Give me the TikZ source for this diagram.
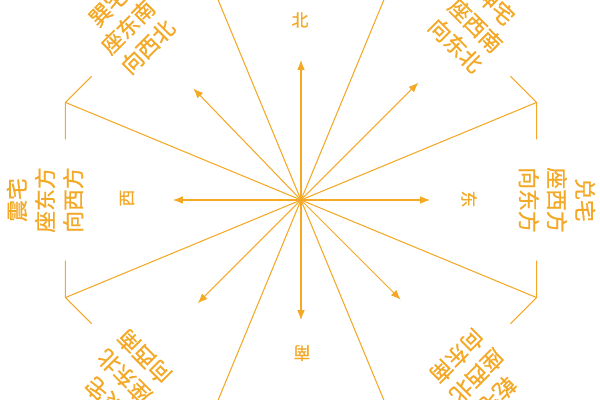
\documentclass[tikz,border=0pt]{standalone}
\usepackage{fontspec}
\newfontfamily\cjk{Noto Sans CJK SC}[BoldFont={Noto Sans CJK SC}, BoldFeatures={FakeBold=0.8}]
\usetikzlibrary{arrows.meta,calc}
\definecolor{bagua}{RGB}{243,168,38}
\tikzset{
  ray/.style={draw=bagua, line width=0.75pt},
  pointer/.style={ray, -{Latex[length=7pt,width=5.5pt]}},
  house/.style={text=bagua, font=\cjk\bfseries\fontsize{15.5}{20}\selectfont, align=center, inner sep=0pt},
  compass/.style={text=bagua, font=\cjk\bfseries\fontsize{12}{14}\selectfont, inner sep=0pt}
}
\begin{document}
\begin{tikzpicture}[x=0.025cm,y=0.025cm]
	\useasboundingbox (-301,-200) rectangle (299,200);
	\coordinate (o) at (0,0);
	\foreach \k in {0,...,7} {\coordinate (v\k) at (22.5+45*\k:255);}
	\foreach \k in {0,...,7} {
		\pgfmathtruncatemacro\nxt{mod(\k+1,8)}
		\pgfmathtruncatemacro\prv{mod(\k+7,8)}
		\draw [ray] ($(v\k)!0.925cm!(v\nxt)$) -- (v\k) -- ($(v\k)!0.925cm!(v\prv)$);
		\draw [ray] (o) -- (v\k);
	}
	\coordinate (tn) at (90:140);
	\coordinate (tne) at (45:166);
	\coordinate (te) at (0:129);
	\coordinate (tse) at (315:141);
	\coordinate (ts) at (270:120);
	\coordinate (tsw) at (225:146);
	\coordinate (tw) at (180:128);
	\coordinate (tnw) at (134:155);
	\foreach \t in {tn,tne,te,tse,ts,tsw,tw,tnw} {\draw [pointer] (o) -- (\t);}
	\node [compass] (bei) at (-1,180) {北};
	\node [compass, rotate=-90] (dong) at (168,1) {东};
	\node [compass, rotate=180] (nan) at (1,-153) {南};
	\node [compass, rotate=90] (xi) at (-174,2) {西};
	\node [house, rotate=45] (xun) at (135:245) {巽宅\\座东南\\向西北};
	\node [house, rotate=90] (zhen) at (180:256) {震宅\\座东方\\向西方};
	\node [house, rotate=135] (gen) at (225:250) {艮宅\\座东北\\向西南};
	\node [house, rotate=225] (qian) at (315:249) {乾宅\\座西北\\向东南};
	\node [house, rotate=-90] (dui) at (0:256) {兑宅\\座西方\\向东方};
	\node [house, rotate=-45] (kun) at (45:247) {坤宅\\座西南\\向东北};
\end{tikzpicture}
\end{document}
